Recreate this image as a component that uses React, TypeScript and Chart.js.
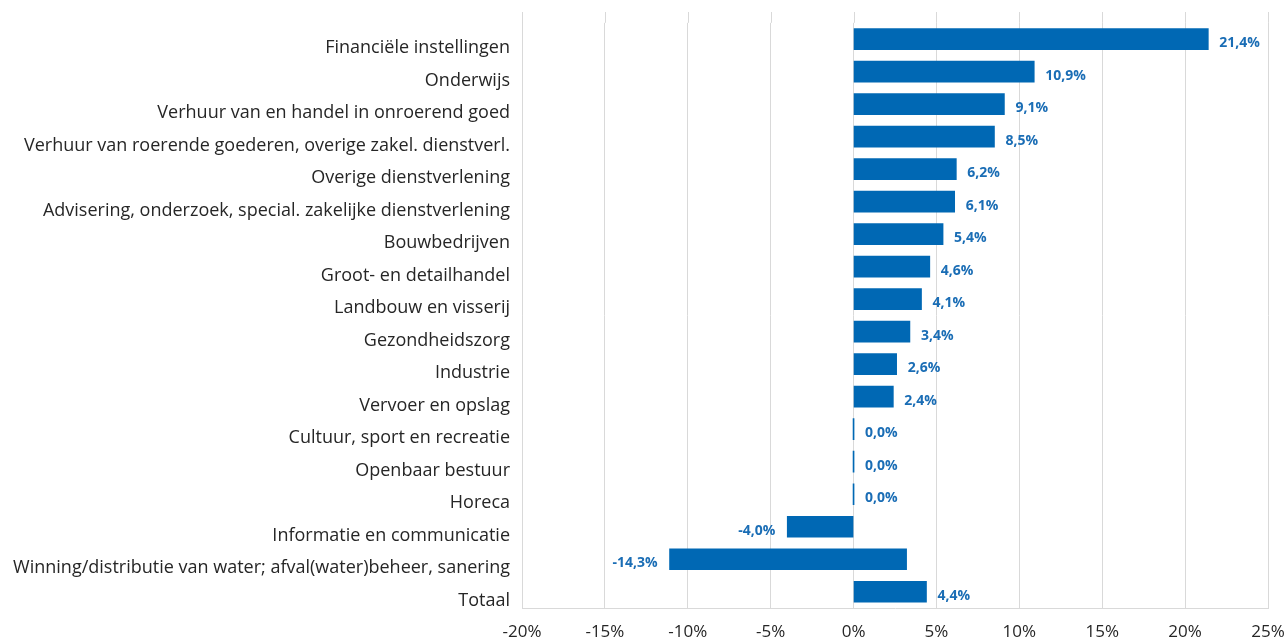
import React, { useEffect, useRef } from "react";
import { Chart, registerables } from "chart.js";

Chart.register(...registerables);

const categories = [
  "Financiële instellingen",
  "Onderwijs",
  "Verhuur van en handel in onroerend goed",
  "Verhuur van roerende goederen, overige zakel. dienstverl.",
  "Overige dienstverlening",
  "Advisering, onderzoek, special. zakelijke dienstverlening",
  "Bouwbedrijven",
  "Groot- en detailhandel",
  "Landbouw en visserij",
  "Gezondheidszorg",
  "Industrie",
  "Vervoer en opslag",
  "Cultuur, sport en recreatie",
  "Openbaar bestuur",
  "Horeca",
  "Informatie en communicatie",
  "Winning/distributie van water; afval(water)beheer, sanering",
  "Totaal",
];

const values = [21.4, 10.9, 9.1, 8.5, 6.2, 6.1, 5.4, 4.6, 4.1, 3.4, 2.6, 2.4, 0.0, 0.0, 0.0, -4.0, -14.3, 4.4];

// where each bar starts as drawn in the reference (one bar is drawn displaced)
const barStarts = [0, 0, 0, 0, 0, 0, 0, 0, 0, 0, 0, 0, 0, 0, 0, 0, -11.1, 0];

const xTicks = [-20, -15, -10, -5, 0, 5, 10, 15, 20, 25];

const BLUE = "#0068b4";
const FONT = "'Open Sans', 'Noto Sans', sans-serif";

export default function App() {
  const ref = useRef<HTMLCanvasElement | null>(null);

  useEffect(() => {
    if (!ref.current) return;
    const barData = values.map((v, i) =>
      barStarts[i] !== 0 ? [barStarts[i], barStarts[i] + Math.abs(v)] : [0, v]
    );

    const labelPlugin = {
      id: "valueLabels",
      afterDatasetsDraw(chart: any) {
        const ctx = chart.ctx;
        const meta = chart.getDatasetMeta(0);
        ctx.save();
        ctx.font = `bold 14px ${FONT}`;
        ctx.fillStyle = "#1a6db5";
        ctx.textBaseline = "middle";
        meta.data.forEach((el: any, i: number) => {
          const v = values[i];
          const txt = v.toFixed(1).replace(".", ",") + "%";
          const left = Math.min(el.x, el.base);
          const right = Math.max(el.x, el.base);
          if (v < 0) {
            ctx.textAlign = "right";
            ctx.fillText(txt, left - 12, el.y + 4);
          } else {
            ctx.textAlign = "left";
            ctx.fillText(txt, right + 11, el.y + 4);
          }
        });
        ctx.restore();
      },
    };

    const gridExtend = {
      id: "gridExtend",
      beforeDatasetsDraw(chart: any) {
        const ctx = chart.ctx;
        const xs = chart.scales.x;
        const top = chart.chartArea.top;
        ctx.save();
        ctx.strokeStyle = "#d9d9d9";
        ctx.lineWidth = 1;
        xTicks.forEach((t) => {
          const px = Math.round(xs.getPixelForValue(t)) + 0.5;
          ctx.beginPath();
          ctx.moveTo(px, 12);
          ctx.lineTo(px, top);
          ctx.stroke();
        });
        ctx.restore();
      },
    };

    const chart = new Chart(ref.current, {
      type: "bar",
      data: {
        labels: categories,
        datasets: [
          {
            data: barData as any,
            backgroundColor: BLUE,
            borderWidth: 0,
            barThickness: 21,
            minBarLength: 1,
          },
        ],
      },
      options: {
        indexAxis: "y",
        animation: false,
        responsive: true,
        maintainAspectRatio: false,
        layout: { padding: { top: 22, right: 0, bottom: 0, left: 0 } },
        plugins: {
          legend: { display: false },
          tooltip: { enabled: false },
        },
        scales: {
          x: {
            type: "linear",
            min: -20,
            max: 25,
            afterBuildTicks(scale: any) {
              scale.ticks = xTicks.map((v) => ({ value: v }));
            },
            afterFit(scale: any) {
              scale.height = 34;
              scale.paddingRight = 17;
              scale.paddingLeft = 0;
            },
            ticks: {
              callback: (v: any) => `${v}%`,
              font: { family: FONT, size: 17 },
              color: "#262626",
              padding: 14,
              maxRotation: 0,
            },
            grid: { color: "#d9d9d9", drawTicks: false, lineWidth: 1 },
            border: { display: true, color: "#d9d9d9" },
          },
          y: {
            type: "category",
            afterFit(scale: any) {
              scale.width = 522;
            },
            ticks: {
              font: { family: FONT, size: 18 },
              color: "#262626",
              padding: 12,
              labelOffset: 9,
              autoSkip: false,
            },
            grid: { display: false, drawTicks: false },
            border: { display: true, color: "#d9d9d9" },
          },
        },
      },
      plugins: [labelPlugin, gridExtend],
    });
    return () => chart.destroy();
  }, []);

  return (
    <div style={{ position: "fixed", left: 0, top: 0, width: 1285, height: 642, background: "#fff" }}>
      <canvas ref={ref} />
    </div>
  );
}
